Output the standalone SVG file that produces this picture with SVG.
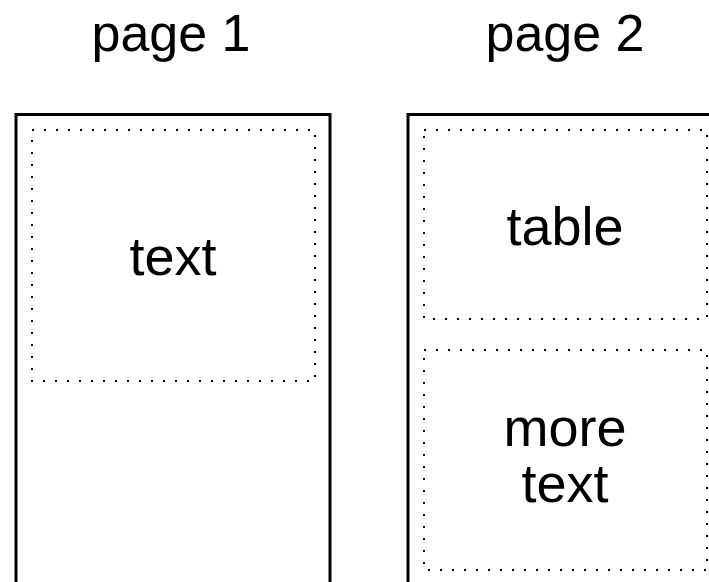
<svg xmlns="http://www.w3.org/2000/svg" width="709" height="582" viewBox="0 0 709 582">
<style>
.page{fill:none;stroke:#000;stroke-width:3}
.area{fill:none;stroke:#000;stroke-width:2;stroke-dasharray:2 10}
text{font-family:"Liberation Sans",Arial,sans-serif;font-size:52px;fill:#000;text-anchor:middle}
.lbl{font-size:54px}
</style>
<rect width="709" height="582" fill="#fff"/>
<g id="page1">
<text x="171" y="51">page 1</text>
<rect class="page" x="16" y="114.5" width="314" height="500"/>
</g>
<g id="page2">
<text x="565" y="51">page 2</text>
<rect class="page" x="408" y="114.5" width="314" height="500"/>
</g>
<g id="text1">
<rect class="area" x="32" y="130" width="283" height="251"/>
<text class="lbl" x="173" y="275">text</text>
</g>
<g id="table">
<rect class="area" x="424" y="130" width="283" height="189"/>
<text class="lbl" x="565" y="245">table</text>
</g>
<g id="moretext">
<rect class="area" x="424" y="350" width="283" height="220"/>
<text class="lbl" x="565" y="446">more</text>
<text class="lbl" x="565" y="502">text</text>
</g>
<g id="connectors"/>
</svg>
